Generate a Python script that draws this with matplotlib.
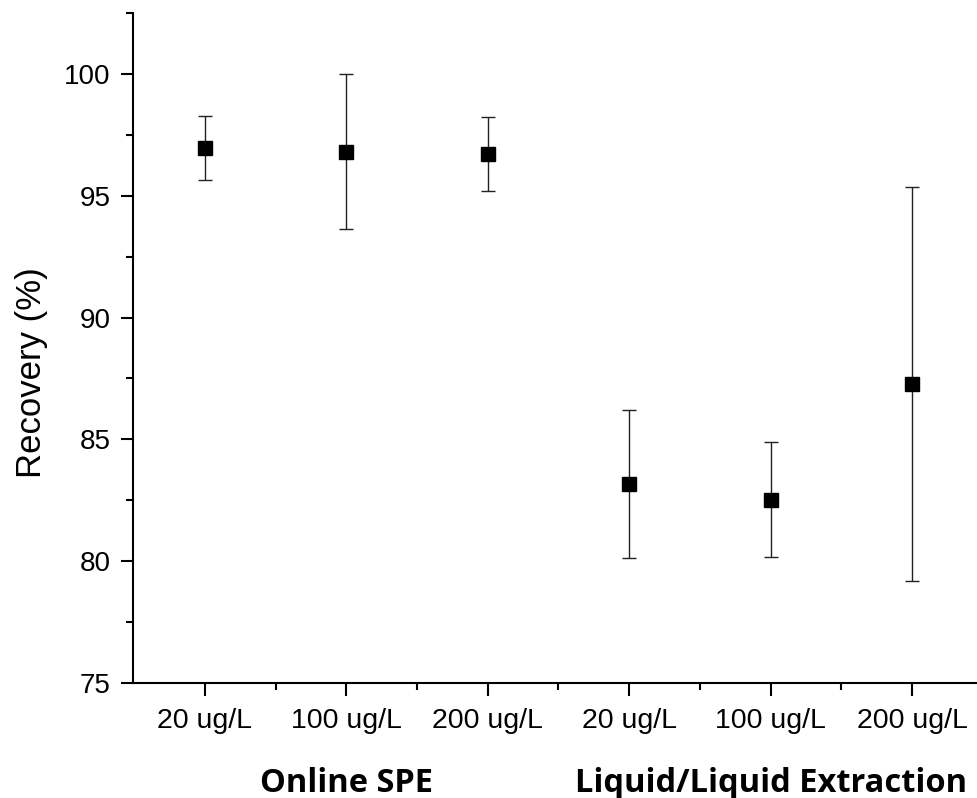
import matplotlib.pyplot as plt
from matplotlib.ticker import MultipleLocator, FixedLocator

plt.rc('font', family=['Liberation Sans', 'DejaVu Sans'])

positions = [1, 2, 3, 4, 5, 6]
tick_labels = ['20 ug/L', '100 ug/L', '200 ug/L', '20 ug/L', '100 ug/L', '200 ug/L']
recovery = [96.95, 96.80, 96.71, 83.17, 82.53, 87.27]
err = [1.32, 3.18, 1.51, 3.05, 2.35, 8.10]
groups = ['Online SPE', 'Liquid/Liquid Extraction']
group_centers = [2, 5]

fig = plt.figure(figsize=(9.77, 7.98), dpi=100)
ax = fig.add_axes([0.136, 0.1441, 0.864, 0.8396])

ax.errorbar(positions, recovery, yerr=err, fmt='s', color='black',
            ecolor='#222222', elinewidth=1.0, capsize=5.3, capthick=1.0,
            markersize=9.4)

ax.set_xlim(0.49, 6.46)
ax.set_ylim(75, 102.5)
ax.yaxis.set_major_locator(MultipleLocator(5))
ax.yaxis.set_minor_locator(MultipleLocator(2.5))
ax.xaxis.set_major_locator(FixedLocator(positions))
ax.xaxis.set_minor_locator(FixedLocator([1.5, 2.5, 3.5, 4.5, 5.5]))
ax.set_xticklabels(tick_labels)

ax.spines['top'].set_visible(False)
ax.spines['right'].set_visible(False)
ax.spines['left'].set_linewidth(1.5)
ax.spines['bottom'].set_linewidth(1.5)
ax.tick_params(which='major', direction='out', length=9, width=1.5, labelsize=20, pad=7)
ax.tick_params(which='minor', direction='out', length=5, width=1.5)
ax.tick_params(axis='x', which='major', pad=9, labelsize=20.5)

ax.set_ylabel('Recovery (%)', fontsize=25)
ax.yaxis.set_label_coords(-0.101, 0.464)

for g, c in zip(groups, group_centers):
    ax.annotate(g, xy=(c, 0), xycoords=('data', 'axes fraction'),
                xytext=(0, -100), textcoords='offset pixels',
                ha='center', va='center', fontsize=23.5, fontweight='bold',
                family=['Open Sans', 'DejaVu Sans'], annotation_clip=False)

fig.savefig('out.png', dpi=100)
